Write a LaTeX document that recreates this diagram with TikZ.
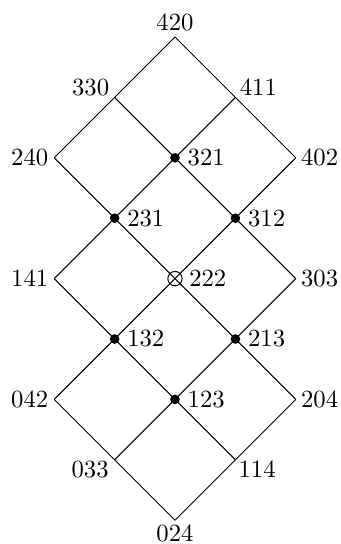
\documentclass[tikz,border=0pt]{standalone}
\begin{document}
\begin{tikzpicture}[x=0.405pt,y=-0.405pt,
  edge/.style={line width=0.4pt},
  lbl/.style={inner sep=0pt},
  dotmark/.style={fill=black},
  ringmark/.style={draw=black,line width=0.4pt}]
\useasboundingbox (0,0) rectangle (340,544);
% vertices
\coordinate (v420) at (175,37);
\coordinate (v330) at (114.6,97.4);
\coordinate (v411) at (235.4,97.4);
\coordinate (v240) at (54.2,157.8);
\coordinate (v321) at (175,157.8);
\coordinate (v402) at (295.8,157.8);
\coordinate (v231) at (114.6,218.2);
\coordinate (v312) at (235.4,218.2);
\coordinate (v141) at (54.2,278.6);
\coordinate (v222) at (175,278.6);
\coordinate (v303) at (295.8,278.6);
\coordinate (v132) at (114.6,339);
\coordinate (v213) at (235.4,339);
\coordinate (v042) at (54.2,399.4);
\coordinate (v123) at (175,399.4);
\coordinate (v204) at (295.8,399.4);
\coordinate (v033) at (114.6,459.8);
\coordinate (v114) at (235.4,459.8);
\coordinate (v024) at (175,520.2);
% NW-SE lines
\draw[edge] (v420) -- (v411) -- (v402);
\draw[edge] (v330) -- (v321) -- (v312) -- (v303);
\draw[edge] (v240) -- (v231) -- (v222) -- (v213) -- (v204);
\draw[edge] (v141) -- (v132) -- (v123) -- (v114);
\draw[edge] (v042) -- (v033) -- (v024);
% NE-SW lines
\draw[edge] (v420) -- (v330) -- (v240);
\draw[edge] (v411) -- (v321) -- (v231) -- (v141);
\draw[edge] (v402) -- (v312) -- (v222) -- (v132) -- (v042);
\draw[edge] (v303) -- (v213) -- (v123) -- (v033);
\draw[edge] (v204) -- (v114) -- (v024);
% marks
\foreach \v in {321,231,312,132,213,123}
  \fill[dotmark] (v\v) circle[radius=1.95pt];
\draw[ringmark] (v222) circle[radius=2.9pt];
% labels
\node[lbl] (l420) at ([shift={(0,-14.2)}]v420) {420};
\node[lbl] (l330) at ([shift={(-24,-10)}]v330) {330};
\node[lbl] (l411) at ([shift={(23,-10)}]v411) {411};
\node[lbl] (l240) at ([shift={(-24.5,0)}]v240) {240};
\node[lbl] (l321) at ([shift={(31.2,0)}]v321) {321};
\node[lbl] (l402) at ([shift={(23.8,0)}]v402) {402};
\node[lbl] (l231) at ([shift={(31.2,0)}]v231) {231};
\node[lbl] (l312) at ([shift={(31.2,0)}]v312) {312};
\node[lbl] (l141) at ([shift={(-24.5,0)}]v141) {141};
\node[lbl] (l222) at ([shift={(32.8,0)}]v222) {222};
\node[lbl] (l303) at ([shift={(23.8,0)}]v303) {303};
\node[lbl] (l132) at ([shift={(31.2,0)}]v132) {132};
\node[lbl] (l213) at ([shift={(31.2,0)}]v213) {213};
\node[lbl] (l042) at ([shift={(-24.5,0)}]v042) {042};
\node[lbl] (l123) at ([shift={(31.2,0)}]v123) {123};
\node[lbl] (l204) at ([shift={(23.8,0)}]v204) {204};
\node[lbl] (l033) at ([shift={(-24.5,9.5)}]v033) {033};
\node[lbl] (l114) at ([shift={(21.7,9.5)}]v114) {114};
\node[lbl] (l024) at ([shift={(0,13.3)}]v024) {024};
\end{tikzpicture}
\end{document}
